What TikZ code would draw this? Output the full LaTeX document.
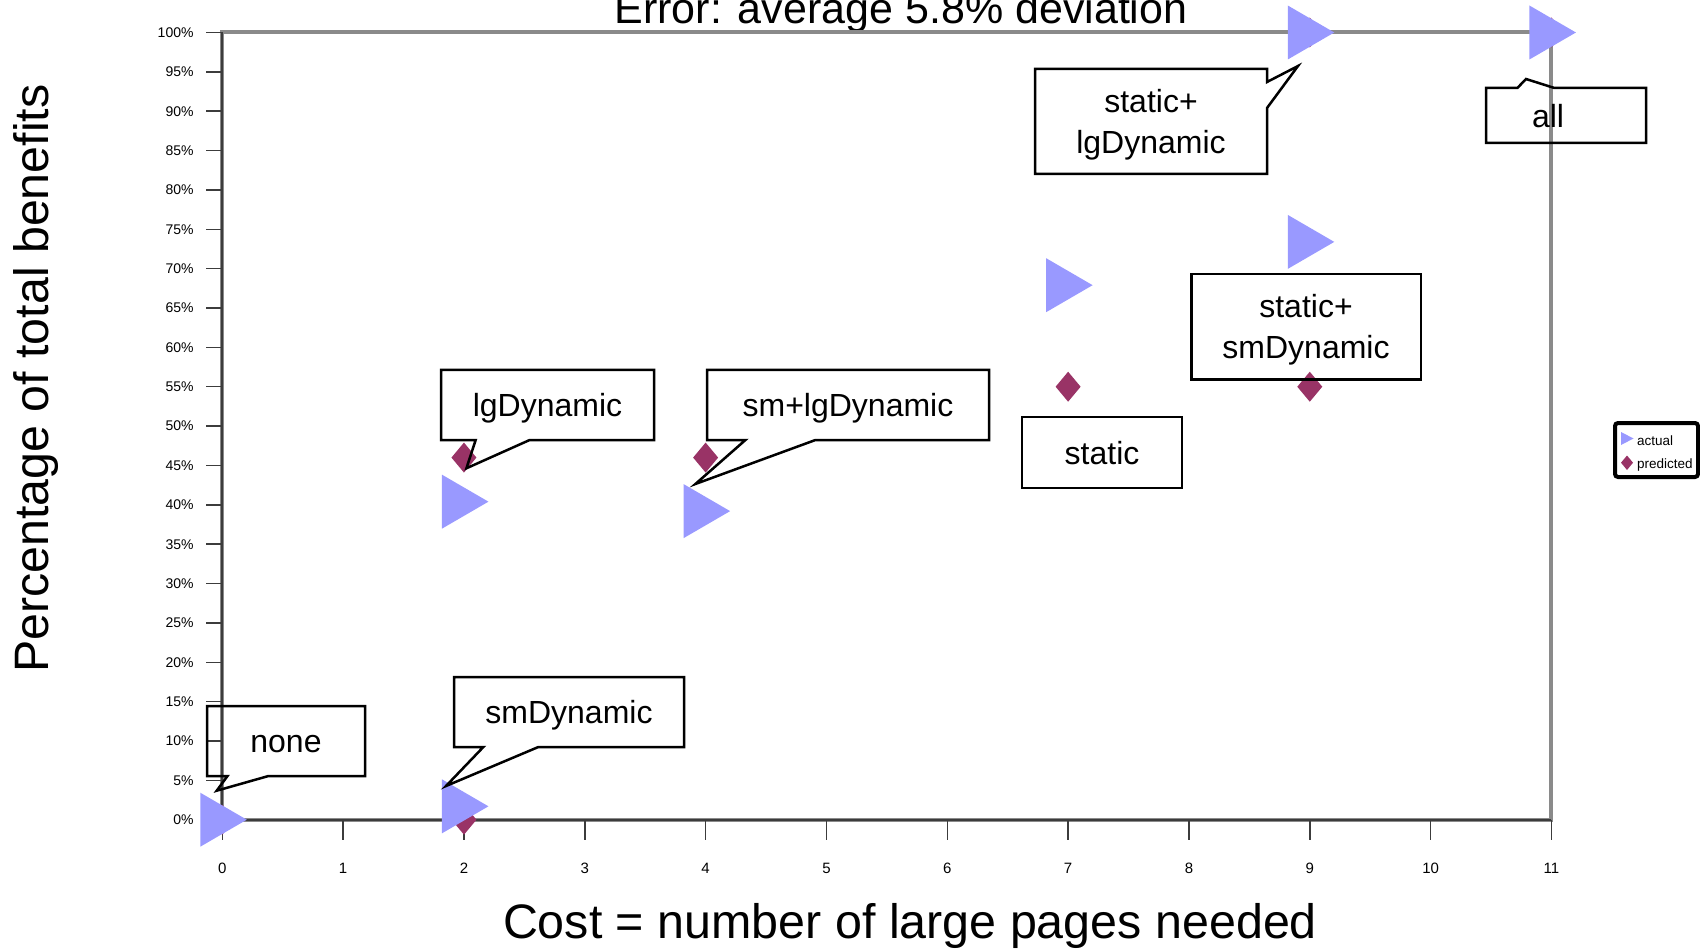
\documentclass[tikz,border=0pt]{standalone}
\usepackage{fontspec}
\setmainfont{Liberation Sans}
\usetikzlibrary{shapes.callouts}
\definecolor{actualc}{HTML}{9999FF}
\definecolor{predc}{HTML}{993366}
\definecolor{framec}{HTML}{8A8A8A}
\definecolor{axisc}{HTML}{3C3C3C}

\tikzset{
  note/.style={rectangle callout, draw, line width=2.5pt, align=center,
    font=\fontsize{32}{41}\selectfont, inner sep=0pt, text height=28pt, text depth=4.8pt},
  plainnote/.style={rectangle, draw, line width=2.5pt, align=center,
    font=\fontsize{32}{41}\selectfont, inner sep=0pt, text height=28pt, text depth=4.8pt},
  twolines/.style={text height=66pt, text depth=2.6pt},
  tickline/.style={axisc, line width=1.5pt},
  axisline/.style={axisc, line width=2.2pt},
  ylab/.style={font=\fontsize{14}{16}\selectfont, inner sep=0pt, black},
  xlab/.style={font=\fontsize{15}{17}\selectfont, inner sep=0pt, black},
  leglab/.style={font=\fontsize{13.5}{15}\selectfont, inner sep=0pt}
}

\begin{document}
\begin{tikzpicture}[x=1pt, y=-1pt]
\useasboundingbox (0,0) rectangle (1700,949);

\node[font=\fontsize{43}{50}\selectfont, anchor=base] (title) at (901,24) {Error: average 5.8\% deviation};
\node[font=\fontsize{48.4}{56}\selectfont, anchor=base] (xtitle) at (910,938) {Cost = number of large pages needed};
\node[font=\fontsize{48.3}{56}\selectfont, anchor=base, rotate=90] (ytitle) at (48,378.5) {Percentage of total benefits};

\begin{scope}[shift={(222.3,819.7)}, x=120.83pt, y=7.872pt]
  \draw[framec, line width=4pt] (0,0) rectangle (11,100);
  \draw[axisline] (0,100) -- (0,0) -- (11,0);
  \foreach \p in {0,5,...,100}
    \draw[tickline] (0,\p) -- ++(-16pt,0) node[ylab, left=12pt] {\p\%};
  \foreach \c in {0,...,11}
    \draw[tickline] (\c,0) -- ++(0,-20pt) node[xlab, below=23pt] {\c};
  % predicted
  \foreach \c/\p in {0/0, 2/0, 2/46, 4/46, 7/55, 9/55, 9/100, 11/100}
    \fill[predc] (\c,\p) +(-12.5pt,0) -- +(0,15pt) -- +(12.5pt,0) -- +(0,-15pt) -- cycle;
  % actual
  \foreach \c/\p in {0/0, 2/1.7, 2/40.4, 4/39.2, 7/67.9, 9/73.4, 9/100, 11/100}
    \fill[actualc] (\c,\p) +(-22pt,27pt) -- +(24.5pt,0) -- +(-22pt,-27pt) -- cycle;
\end{scope}

\coordinate (tipnone) at (216.7,790.7);
\coordinate (tipsm) at (446,786);
\coordinate (tiplg) at (466.4,468.3);
\coordinate (tipsmlg) at (695.4,484);
\coordinate (tipstlg) at (1298,66);
\coordinate (tipall) at (1526,79);

\node[note, minimum width=158pt, minimum height=70pt, callout absolute pointer={(tipnone)},
  callout pointer width=41pt] (none) at (286,741) {none};
\node[note, minimum width=230pt, minimum height=70pt, callout absolute pointer={(tipsm)},
  callout pointer width=55pt] (smdyn) at (569,712) {smDynamic};
\node[note, minimum width=213pt, minimum height=70pt, callout absolute pointer={(tiplg)},
  callout pointer width=54pt] (lgdyn) at (547.5,405) {lgDynamic};
\node[note, minimum width=282pt, minimum height=70pt, callout absolute pointer={(tipsmlg)},
  callout pointer width=70pt] (smlgdyn) at (848,405) {sm+lgDynamic};
\node[plainnote, minimum width=160pt, minimum height=71pt] (static) at (1102,452.5) {static};
\node[plainnote, twolines, minimum width=229.5pt, minimum height=105.5pt] (stsm) at (1306,327) {static+\\smDynamic};
\node[note, twolines, minimum width=232pt, minimum height=105pt, callout absolute pointer={(tipstlg)},
  callout pointer width=26pt] (stlg) at (1151,121.5) {static+\\lgDynamic};
\node[note, minimum width=160pt, minimum height=55pt, text width=68pt, align=left,
  callout absolute pointer={(tipall)}, callout pointer width=37pt] (all) at (1566,115.5) {all};

% legend
\draw[line width=4pt, rounded corners=3pt] (1615,423) rectangle (1698,477);
\fill[actualc] (1621,432) -- (1633.5,438.5) -- (1621,445) -- cycle;
\fill[predc] (1627,455.5) -- (1633,462.7) -- (1627,470) -- (1621,462.7) -- cycle;
\node[leglab, anchor=base west] (actlab) at (1637,445.5) {actual};
\node[leglab, anchor=base west] (predlab) at (1637,468) {predicted};
\end{tikzpicture}
\end{document}
